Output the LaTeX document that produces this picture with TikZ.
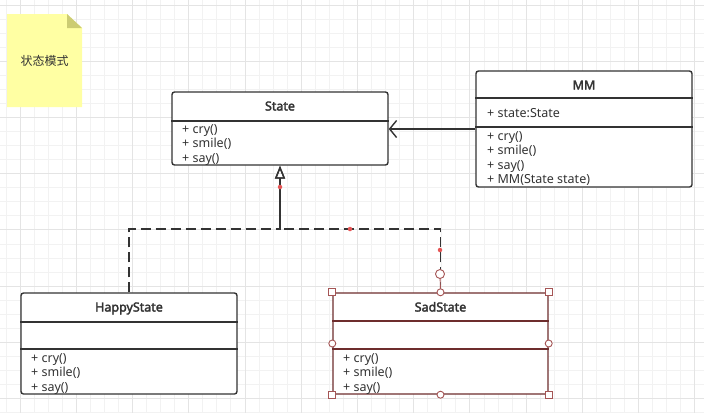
\documentclass[tikz,border=0pt]{standalone}
\usepackage{fontspec}
\setmainfont{Noto Sans}[AutoFakeBold=2.5]
\newfontfamily\cjk{Noto Sans CJK SC}
\usetikzlibrary{arrows.meta}
\definecolor{linea}{RGB}{51,51,51}
\definecolor{texto}{RGB}{51,51,51}
\definecolor{rejmenor}{RGB}{242,242,242}
\definecolor{rejmayor}{RGB}{228,228,228}
\definecolor{nota}{RGB}{255,255,163}
\definecolor{pliegue}{RGB}{204,204,115}
\definecolor{selec}{RGB}{110,45,45}
\definecolor{asa}{RGB}{165,85,85}
\definecolor{punto}{RGB}{230,85,85}

\begin{document}
\begin{tikzpicture}[x=1pt, y=-1pt,
    clase/.style={draw=linea, line width=1.4pt, rounded corners=2.5pt, fill=white, inner sep=0pt},
    divisor/.style={draw=linea, line width=1.4pt},
    titulo/.style={font=\bfseries\fontsize{12.5}{14}\selectfont, text=texto, text height=9pt, text depth=3pt, inner sep=0pt},
    miembro/.style={font=\fontsize{12.5}{14}\selectfont, text=texto, anchor=west, text height=9pt, text depth=3pt, inner sep=0pt},
    realiza/.style={draw=linea, line width=1.4pt, dash pattern=on 10pt off 5pt, -{Triangle[open, length=13pt, width=10pt]}},
    asocia/.style={draw=linea, line width=1.4pt, -{Straight Barb[length=7pt, width=17pt]}},
    asa/.style={draw=asa, fill=white, line width=0.9pt},
    punto/.style={circle, fill=punto, inner sep=0pt, minimum size=4.5pt}]
    \useasboundingbox (0,0) rectangle (704,413);
    \fill[white] (0,0) rectangle (704,413);

    % Rejilla
    \foreach \i in {0,...,49} \draw[rejmenor, line width=1pt] ({6+14.06*\i},0) -- ({6+14.06*\i},413);
    \foreach \j in {0,...,29} \draw[rejmenor, line width=1pt] (0,{5+14.06*\j}) -- (704,{5+14.06*\j});
    \foreach \i in {1,5,...,49} \draw[rejmayor, line width=1pt] ({6+14.06*\i},0) -- ({6+14.06*\i},413);
    \foreach \j in {0,4,...,28} \draw[rejmayor, line width=1pt] (0,{5+14.06*\j}) -- (704,{5+14.06*\j});

    % Nota
    \fill[nota] (7,14) -- (67,14) -- (82,28) -- (82,107) -- (7,107) -- cycle;
    \fill[pliegue] (67,14) -- (67,28) -- (82,28) -- cycle;
    \node[text=texto, font=\cjk\fontsize{12}{14}\selectfont] (nota) at (44.5,61) {状态模式};

    % Clases
    \node[clase, minimum width=216pt, minimum height=73pt] (state) at (280,128.5) {};
    \node[clase, minimum width=216pt, minimum height=116pt] (mm) at (584,129) {};
    \node[clase, minimum width=216pt, minimum height=101pt] (happy) at (129,343.5) {};
    \node[clase, draw=selec, minimum width=215pt, minimum height=101pt] (sad) at (440.5,343.5) {};

    % Conectores
    \coordinate (union) at (280,229);
    \draw[realiza] (happy.north) |- (union) -- (state.south);
    \draw[realiza] (sad.north) |- (union) -- (state.south);
    \draw[asocia] (mm.west) -- (state.east |- mm.west);

    % State
    \node[titulo] (state-t) at (280,107.5) {State};
    \draw[divisor] (state.west |- 0,121) -- (state.east |- 0,121);
    \foreach \m [count=\i] in {+ cry(), + smile(), + say()}
        \node[miembro] (state-m\i) at (182,{130+14.5*(\i-1)}) {\m};

    % MM
    \node[titulo] (mm-t) at (584,86.5) {MM};
    \draw[divisor] (mm.west |- 0,98) -- (mm.east |- 0,98);
    \node[miembro] (mm-a) at (487,114) {+ state:State};
    \draw[divisor] (mm.west |- 0,127) -- (mm.east |- 0,127);
    \foreach \m [count=\i] in {+ cry(), + smile(), + say(), + MM(State state)}
        \node[miembro] (mm-m\i) at (487,{137+14.5*(\i-1)}) {\m};

    % HappyState
    \node[titulo] (happy-t) at (129,308.5) {HappyState};
    \draw[divisor] (happy.west |- 0,322) -- (happy.east |- 0,322);
    \draw[divisor] (happy.west |- 0,349) -- (happy.east |- 0,349);
    \foreach \m [count=\i] in {+ cry(), + smile(), + say()}
        \node[miembro] (happy-m\i) at (31,{359+14.5*(\i-1)}) {\m};

    % SadState
    \node[titulo] (sad-t) at (440.5,308.5) {SadState};
    \draw[divisor, selec] (sad.west |- 0,321) -- (sad.east |- 0,321);
    \draw[divisor, selec] (sad.west |- 0,349) -- (sad.east |- 0,349);
    \foreach \m [count=\i] in {+ cry(), + smile(), + say()}
        \node[miembro] (sad-m\i) at (343,{359+14.5*(\i-1)}) {\m};

    % Seleccion
    \coordinate (giro) at (440,274);
    \draw[asa] (giro) -- (sad.north);
    \draw[asa] (giro) circle (4.5pt);
    \foreach \a in {north west, north east, south west, south east}
        \draw[asa] ([shift={(-3.5pt,-3.5pt)}]sad.\a) rectangle ([shift={(3.5pt,3.5pt)}]sad.\a);
    \foreach \a in {north, south, west, east}
        \draw[asa] (sad.\a) circle (3.5pt);

    % Puntos
    \node[punto] (p1) at (280,187) {};
    \node[punto] (p2) at (350,229) {};
    \node[punto] (p3) at (440,250) {};
\end{tikzpicture}
\end{document}
